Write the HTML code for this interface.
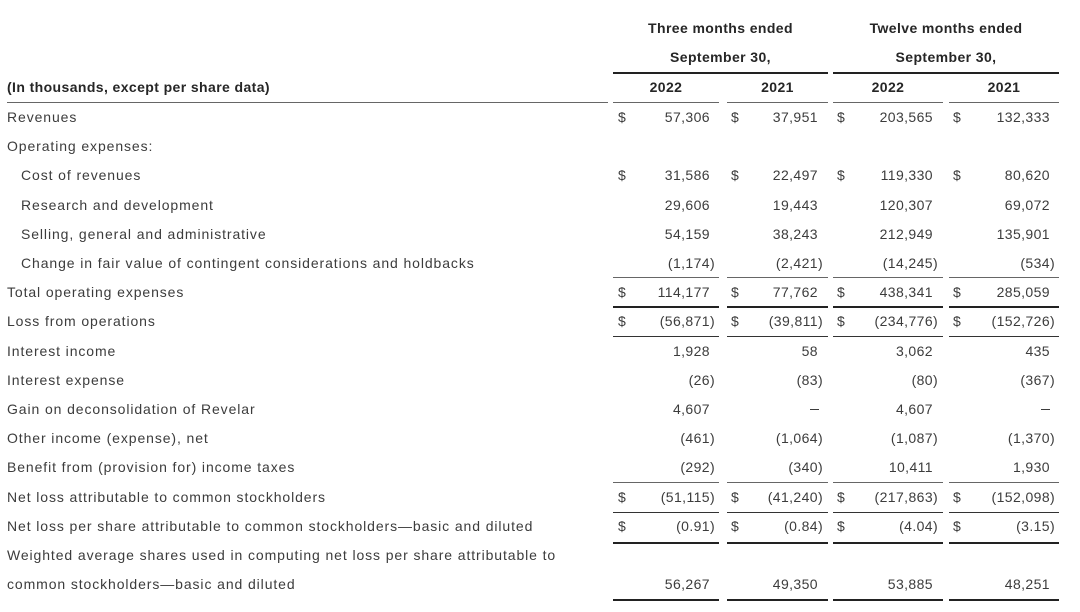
<!DOCTYPE html>
<html><head><meta charset="utf-8"><style>
html,body{margin:0;padding:0;background:#fff;}
body{width:1080px;height:612px;position:relative;overflow:hidden;font-family:"Liberation Sans",Arial,sans-serif;font-size:14px;color:#3c3c3c;}
.t{position:absolute;white-space:nowrap;line-height:20px;height:20px;letter-spacing:0.9px;}
.b{font-weight:bold;color:#262626;letter-spacing:0.4px;}
.h{position:absolute;white-space:nowrap;line-height:20px;height:20px;font-weight:bold;color:#262626;letter-spacing:0.4px;text-align:center;}
.n{position:absolute;white-space:nowrap;line-height:20px;height:20px;letter-spacing:0.4px;text-align:right;}
.p{position:absolute;left:100%;top:0;}
.d{position:absolute;line-height:20px;height:20px;}
.l{position:absolute;height:1px;background:#666;}
.k{position:absolute;height:2px;background:#222;}
.m{position:absolute;height:1px;background:#333;}
.dash{position:absolute;height:1px;background:#3c3c3c;width:9px;}
</style></head><body>

<div class="h" style="top:18px;left:613px;width:215px;">Three months ended</div>
<div class="h" style="top:47px;left:613px;width:215px;">September 30,</div>
<div class="h" style="top:18px;left:833px;width:226px;">Twelve months ended</div>
<div class="h" style="top:47px;left:833px;width:226px;">September 30,</div>
<div class="k" style="top:72px;left:613px;width:215px;"></div>
<div class="k" style="top:72px;left:833px;width:226px;"></div>
<div class="t b" style="top:77px;left:7px;">(In thousands, except per share data)</div>
<div class="h" style="top:77px;left:613px;width:106px;">2022</div>
<div class="h" style="top:77px;left:727px;width:101px;">2021</div>
<div class="h" style="top:77px;left:833px;width:110px;">2022</div>
<div class="h" style="top:77px;left:949px;width:110px;">2021</div>
<div class="l" style="top:102px;left:7px;width:601px;"></div>
<div class="l" style="top:102px;left:613px;width:106px;"></div>
<div class="l" style="top:102px;left:727px;width:101px;"></div>
<div class="l" style="top:102px;left:833px;width:110px;"></div>
<div class="l" style="top:102px;left:949px;width:110px;"></div>

<div class="t" style="top:107px;left:7px;">Revenues</div>
<div class="d" style="top:107px;left:618px;">$</div>
<div class="n" style="top:107px;right:370px;">57,306</div>
<div class="d" style="top:107px;left:731px;">$</div>
<div class="n" style="top:107px;right:262px;">37,951</div>
<div class="d" style="top:107px;left:837px;">$</div>
<div class="n" style="top:107px;right:147px;">203,565</div>
<div class="d" style="top:107px;left:953px;">$</div>
<div class="n" style="top:107px;right:30px;">132,333</div>

<div class="t" style="top:136px;left:7px;">Operating expenses:</div>

<div class="t" style="top:165px;left:21px;">Cost of revenues</div>
<div class="d" style="top:165px;left:618px;">$</div>
<div class="n" style="top:165px;right:370px;">31,586</div>
<div class="d" style="top:165px;left:731px;">$</div>
<div class="n" style="top:165px;right:262px;">22,497</div>
<div class="d" style="top:165px;left:837px;">$</div>
<div class="n" style="top:165px;right:147px;">119,330</div>
<div class="d" style="top:165px;left:953px;">$</div>
<div class="n" style="top:165px;right:30px;">80,620</div>

<div class="t" style="top:194.6px;left:21px;">Research and development</div>
<div class="n" style="top:194.6px;right:370px;">29,606</div>
<div class="n" style="top:194.6px;right:262px;">19,443</div>
<div class="n" style="top:194.6px;right:147px;">120,307</div>
<div class="n" style="top:194.6px;right:30px;">69,072</div>

<div class="t" style="top:223.8px;left:21px;">Selling, general and administrative</div>
<div class="n" style="top:223.8px;right:370px;">54,159</div>
<div class="n" style="top:223.8px;right:262px;">38,243</div>
<div class="n" style="top:223.8px;right:147px;">212,949</div>
<div class="n" style="top:223.8px;right:30px;">135,901</div>

<div class="t" style="top:253px;left:21px;">Change in fair value of contingent considerations and holdbacks</div>
<div class="n" style="top:253px;right:370px;">(1,174<span class="p">)</span></div>
<div class="n" style="top:253px;right:262px;">(2,421<span class="p">)</span></div>
<div class="n" style="top:253px;right:147px;">(14,245<span class="p">)</span></div>
<div class="n" style="top:253px;right:30px;">(534<span class="p">)</span></div>

<div class="l" style="top:277px;left:613px;width:106px;"></div>
<div class="l" style="top:277px;left:727px;width:101px;"></div>
<div class="l" style="top:277px;left:833px;width:110px;"></div>
<div class="l" style="top:277px;left:949px;width:110px;"></div>

<div class="t" style="top:282px;left:7px;">Total operating expenses</div>
<div class="d" style="top:282px;left:618px;">$</div>
<div class="n" style="top:282px;right:370px;">114,177</div>
<div class="d" style="top:282px;left:731px;">$</div>
<div class="n" style="top:282px;right:262px;">77,762</div>
<div class="d" style="top:282px;left:837px;">$</div>
<div class="n" style="top:282px;right:147px;">438,341</div>
<div class="d" style="top:282px;left:953px;">$</div>
<div class="n" style="top:282px;right:30px;">285,059</div>

<div class="k" style="top:306px;left:613px;width:106px;"></div>
<div class="k" style="top:306px;left:727px;width:101px;"></div>
<div class="k" style="top:306px;left:833px;width:110px;"></div>
<div class="k" style="top:306px;left:949px;width:110px;"></div>

<div class="t" style="top:311.3px;left:7px;">Loss from operations</div>
<div class="d" style="top:311.3px;left:618px;">$</div>
<div class="n" style="top:311.3px;right:370px;">(56,871<span class="p">)</span></div>
<div class="d" style="top:311.3px;left:731px;">$</div>
<div class="n" style="top:311.3px;right:262px;">(39,811<span class="p">)</span></div>
<div class="d" style="top:311.3px;left:837px;">$</div>
<div class="n" style="top:311.3px;right:147px;">(234,776<span class="p">)</span></div>
<div class="d" style="top:311.3px;left:953px;">$</div>
<div class="n" style="top:311.3px;right:30px;">(152,726<span class="p">)</span></div>

<div class="m" style="top:336px;left:613px;width:106px;"></div>
<div class="m" style="top:336px;left:727px;width:101px;"></div>
<div class="m" style="top:336px;left:833px;width:110px;"></div>
<div class="m" style="top:336px;left:949px;width:110px;"></div>

<div class="t" style="top:340.5px;left:7px;">Interest income</div>
<div class="n" style="top:340.5px;right:370px;">1,928</div>
<div class="n" style="top:340.5px;right:262px;">58</div>
<div class="n" style="top:340.5px;right:147px;">3,062</div>
<div class="n" style="top:340.5px;right:30px;">435</div>

<div class="t" style="top:369.7px;left:7px;">Interest expense</div>
<div class="n" style="top:369.7px;right:370px;">(26<span class="p">)</span></div>
<div class="n" style="top:369.7px;right:262px;">(83<span class="p">)</span></div>
<div class="n" style="top:369.7px;right:147px;">(80<span class="p">)</span></div>
<div class="n" style="top:369.7px;right:30px;">(367<span class="p">)</span></div>

<div class="t" style="top:398.9px;left:7px;">Gain on deconsolidation of Revelar</div>
<div class="n" style="top:398.9px;right:370px;">4,607</div>
<div class="n" style="top:398.9px;right:262px;color:transparent;">—</div>
<div class="dash" style="top:409px;left:810px;"></div>
<div class="n" style="top:398.9px;right:147px;">4,607</div>
<div class="n" style="top:398.9px;right:30px;color:transparent;">—</div>
<div class="dash" style="top:409px;left:1041px;"></div>

<div class="t" style="top:428.1px;left:7px;">Other income (expense), net</div>
<div class="n" style="top:428.1px;right:370px;">(461<span class="p">)</span></div>
<div class="n" style="top:428.1px;right:262px;">(1,064<span class="p">)</span></div>
<div class="n" style="top:428.1px;right:147px;">(1,087<span class="p">)</span></div>
<div class="n" style="top:428.1px;right:30px;">(1,370<span class="p">)</span></div>

<div class="t" style="top:457.3px;left:7px;">Benefit from (provision for) income taxes</div>
<div class="n" style="top:457.3px;right:370px;">(292<span class="p">)</span></div>
<div class="n" style="top:457.3px;right:262px;">(340<span class="p">)</span></div>
<div class="n" style="top:457.3px;right:147px;">10,411</div>
<div class="n" style="top:457.3px;right:30px;">1,930</div>

<div class="l" style="top:482px;left:613px;width:106px;"></div>
<div class="l" style="top:482px;left:727px;width:101px;"></div>
<div class="l" style="top:482px;left:833px;width:110px;"></div>
<div class="l" style="top:482px;left:949px;width:110px;"></div>

<div class="t" style="top:486.5px;left:7px;">Net loss attributable to common stockholders</div>
<div class="d" style="top:486.5px;left:618px;">$</div>
<div class="n" style="top:486.5px;right:370px;">(51,115<span class="p">)</span></div>
<div class="d" style="top:486.5px;left:731px;">$</div>
<div class="n" style="top:486.5px;right:262px;">(41,240<span class="p">)</span></div>
<div class="d" style="top:486.5px;left:837px;">$</div>
<div class="n" style="top:486.5px;right:147px;">(217,863<span class="p">)</span></div>
<div class="d" style="top:486.5px;left:953px;">$</div>
<div class="n" style="top:486.5px;right:30px;">(152,098<span class="p">)</span></div>

<div class="m" style="top:512px;left:613px;width:106px;"></div>
<div class="m" style="top:512px;left:727px;width:101px;"></div>
<div class="m" style="top:512px;left:833px;width:110px;"></div>
<div class="m" style="top:512px;left:949px;width:110px;"></div>

<div class="t" style="top:515.7px;left:7px;">Net loss per share attributable to common stockholders—basic and diluted</div>
<div class="d" style="top:515.7px;left:618px;">$</div>
<div class="n" style="top:515.7px;right:370px;">(0.91<span class="p">)</span></div>
<div class="d" style="top:515.7px;left:731px;">$</div>
<div class="n" style="top:515.7px;right:262px;">(0.84<span class="p">)</span></div>
<div class="d" style="top:515.7px;left:837px;">$</div>
<div class="n" style="top:515.7px;right:147px;">(4.04<span class="p">)</span></div>
<div class="d" style="top:515.7px;left:953px;">$</div>
<div class="n" style="top:515.7px;right:30px;">(3.15<span class="p">)</span></div>

<div class="k" style="top:541.5px;left:613px;width:106px;"></div>
<div class="k" style="top:541.5px;left:727px;width:101px;"></div>
<div class="k" style="top:541.5px;left:833px;width:110px;"></div>
<div class="k" style="top:541.5px;left:949px;width:110px;"></div>

<div class="t" style="top:544.9px;left:7px;">Weighted average shares used in computing net loss per share attributable to</div>
<div class="t" style="top:574px;left:7px;">common stockholders—basic and diluted</div>
<div class="n" style="top:574px;right:370px;">56,267</div>
<div class="n" style="top:574px;right:262px;">49,350</div>
<div class="n" style="top:574px;right:147px;">53,885</div>
<div class="n" style="top:574px;right:30px;">48,251</div>

<div class="k" style="top:599px;left:613px;width:106px;"></div>
<div class="k" style="top:599px;left:727px;width:101px;"></div>
<div class="k" style="top:599px;left:833px;width:110px;"></div>
<div class="k" style="top:599px;left:949px;width:110px;"></div>

</body></html>
